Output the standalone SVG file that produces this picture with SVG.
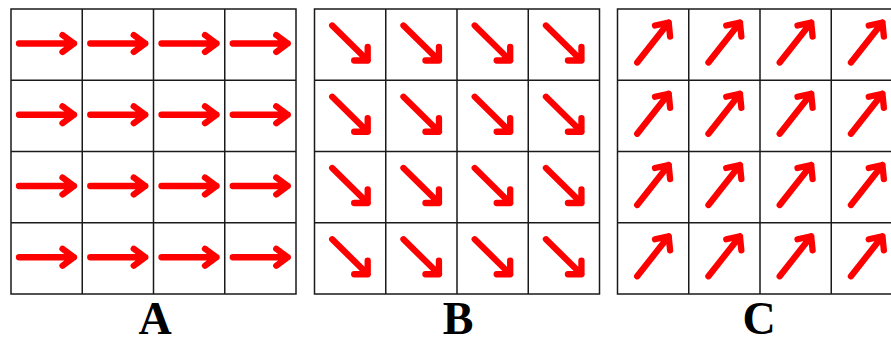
<svg xmlns="http://www.w3.org/2000/svg" xmlns:xlink="http://www.w3.org/1999/xlink" width="891" height="339" viewBox="0 0 891 339">
  <style>
    .grid { fill: none; stroke: #1a1a1a; stroke-width: 1.5; }
    .arrow { fill: none; stroke: #ff0000; stroke-width: 6.3; stroke-linecap: round; stroke-linejoin: round; }
    .label { font-family: "Liberation Serif", "Times New Roman", serif; font-weight: bold; font-size: 46px; fill: #000; text-anchor: middle; }
  </style>
  <defs>
    <g id="gridLines">
      <rect class="grid" x="0" y="0" width="285" height="285"/>
      <path class="grid" d="M71.25 0V285M142.5 0V285M213.75 0V285M0 71.25H285M0 142.5H285M0 213.75H285"/>
    </g>
    <path id="arrRight" class="arrow" d="M8 34.5H63M51.5 26L63 34.5L51.5 43"/>
    <path id="arrDown" class="arrow" d="M17.7 16.5L53.2 51.5M53.2 38L53.2 51.5L39.7 51.5"/>
    <path id="arrUp" class="arrow" d="M19.7 53.5L51.2 13.5M37.5 16.5L51.2 13.5L52.6 27.5"/>
    <g id="rowRight">
      <use xlink:href="#arrRight" x="0"/>
      <use xlink:href="#arrRight" x="71.25"/>
      <use xlink:href="#arrRight" x="142.5"/>
      <use xlink:href="#arrRight" x="213.75"/>
    </g>
    <g id="rowDown">
      <use xlink:href="#arrDown" x="0"/>
      <use xlink:href="#arrDown" x="71.25"/>
      <use xlink:href="#arrDown" x="142.5"/>
      <use xlink:href="#arrDown" x="213.75"/>
    </g>
    <g id="rowUp">
      <use xlink:href="#arrUp" x="0"/>
      <use xlink:href="#arrUp" x="71.25"/>
      <use xlink:href="#arrUp" x="142.5"/>
      <use xlink:href="#arrUp" x="213.75"/>
    </g>
  </defs>
  <rect width="891" height="339" fill="#fff"/>

  <g id="gridA" transform="translate(11,9)">
    <use xlink:href="#gridLines"/>
    <use xlink:href="#rowRight" y="0"/>
    <use xlink:href="#rowRight" y="71.25"/>
    <use xlink:href="#rowRight" y="142.5"/>
    <use xlink:href="#rowRight" y="213.75"/>
  </g>

  <g id="gridB" transform="translate(314.5,9)">
    <use xlink:href="#gridLines"/>
    <use xlink:href="#rowDown" y="0"/>
    <use xlink:href="#rowDown" y="71.25"/>
    <use xlink:href="#rowDown" y="142.5"/>
    <use xlink:href="#rowDown" y="213.75"/>
  </g>

  <g id="gridC" transform="translate(617.5,9)">
    <use xlink:href="#gridLines"/>
    <use xlink:href="#rowUp" y="0"/>
    <use xlink:href="#rowUp" y="71.25"/>
    <use xlink:href="#rowUp" y="142.5"/>
    <use xlink:href="#rowUp" y="213.75"/>
  </g>

  <g id="labels">
    <text class="label" x="155" y="334">A</text>
    <text class="label" x="458" y="334">B</text>
    <text class="label" x="759" y="334">C</text>
  </g>
</svg>
